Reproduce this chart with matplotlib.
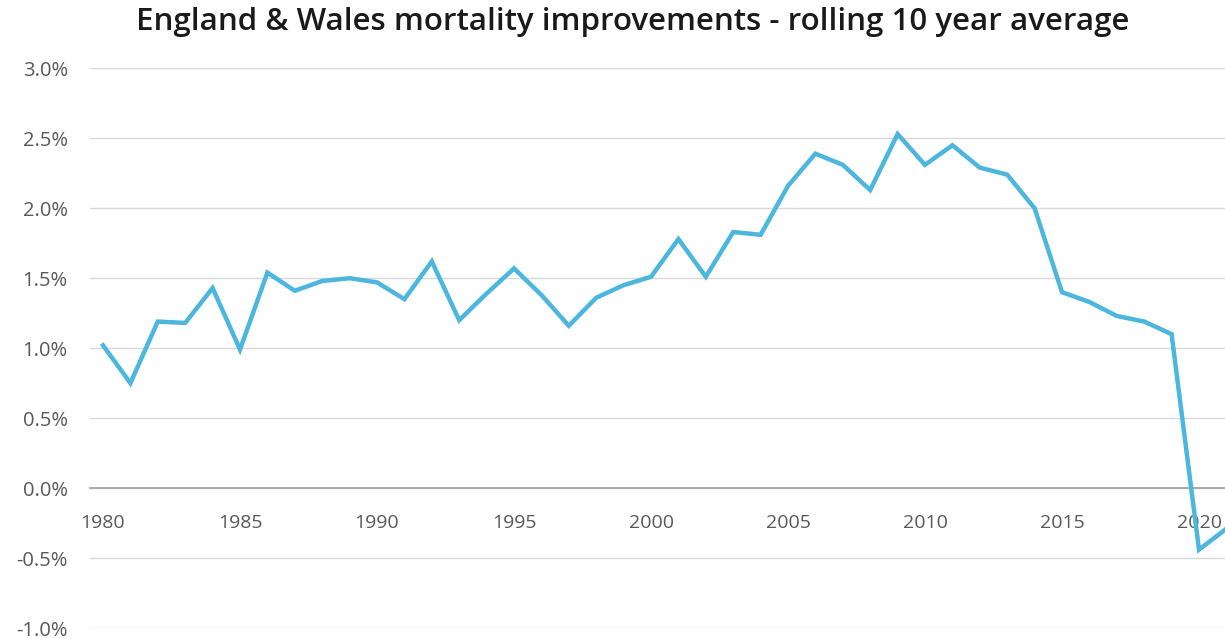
import matplotlib
matplotlib.use("Agg")
import matplotlib.pyplot as plt
from matplotlib.ticker import FuncFormatter, MultipleLocator

years = list(range(1980, 2022))
improvement_pct = [
    1.02, 0.75, 1.19, 1.18, 1.43, 0.99, 1.54, 1.41, 1.48, 1.50,
    1.47, 1.35, 1.62, 1.20, 1.39, 1.57, 1.38, 1.16, 1.36, 1.45,
    1.51, 1.78, 1.51, 1.83, 1.81, 2.16, 2.39, 2.31, 2.13, 2.53,
    2.31, 2.45, 2.29, 2.24, 2.00, 1.40, 1.33, 1.23, 1.19, 1.10,
    -0.44, -0.29,
]
x_ticks = [1980, 1985, 1990, 1995, 2000, 2005, 2010, 2015, 2020]
title = "England & Wales mortality improvements - rolling 10 year average"

plt.rcParams['font.family'] = ['Open Sans', 'DejaVu Sans']

W, H = 1225, 639
fig = plt.figure(figsize=(W / 100, H / 100), dpi=100)
ax = fig.add_axes([90 / W, (H - 628) / H, (W - 90) / W, (628 - 68.3) / H])

ax.plot(years, improvement_pct, color='#4bb6de', lw=3.2, solid_joinstyle='miter', zorder=3)

ax.set_ylim(-1.0, 3.0)
ax.set_xlim(1980 - 13 / 27.4, 1980 + (W - 103) / 27.4)
ax.yaxis.set_major_locator(MultipleLocator(0.5))
ax.yaxis.set_major_formatter(FuncFormatter(lambda v, p: f"{v:.1f}%"))
ax.set_xticks(x_ticks)
ax.set_xticklabels([str(y) for y in x_ticks])

ax.grid(axis='y', color='#d9d9d9', lw=1.0, zorder=0)
ax.grid(axis='x', visible=False)
for s in ['top', 'right', 'left']:
    ax.spines[s].set_visible(False)
ax.spines['bottom'].set_position(('data', 0))
ax.spines['bottom'].set_color('#a6a6a6')
ax.spines['bottom'].set_linewidth(1.3)

ax.tick_params(axis='y', length=0, pad=16, labelsize=14.5, labelcolor='#595959')
ax.tick_params(axis='x', length=0, pad=19, labelsize=14, labelcolor='#595959')
for lab in ax.get_xticklabels() + ax.get_yticklabels():
    lab.set_clip_on(False)

fig.text(633 / W, 1 - 22 / H, title, ha='center', va='center', fontsize=22.5,
         fontweight='semibold', color='#1a1a1a')

fig.savefig('out.png', dpi=100, facecolor='white')
